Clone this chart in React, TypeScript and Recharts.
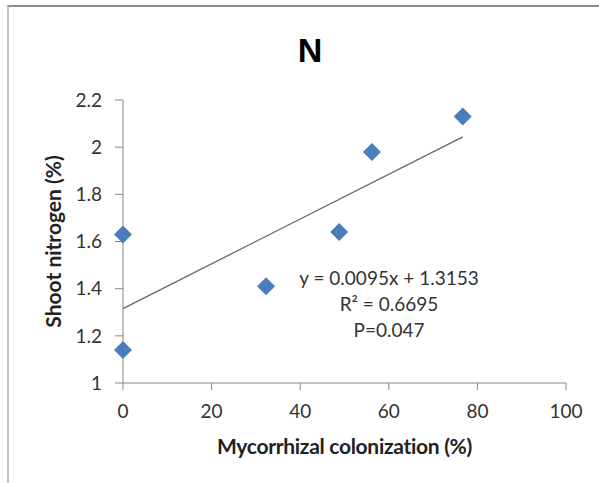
import React from "react"
import { ScatterChart, Scatter, XAxis, YAxis } from "recharts"

const colonization = [0, 0, 32.3, 48.8, 56.2, 76.7]
const shootN = [1.63, 1.14, 1.41, 1.64, 1.98, 2.13]

const xTicks = [0, 20, 40, 60, 80, 100]
const yTicks = [1, 1.2, 1.4, 1.6, 1.8, 2, 2.2]

// trendline as printed on the chart
const slope = 0.0095
const intercept = 1.3153
const trendRange = [0, 76.7]

const equationLines = ["y = 0.0095x + 1.3153", "R\u00B2 = 0.6695", "P=0.047"]

const points = colonization.map((x, i) => ({ x, y: shootN[i] }))
const trend = trendRange.map((x) => ({ x, y: slope * x + intercept }))

const FONT = "Lato, 'Open Sans', sans-serif"
const AXIS = "#868686"

const Diamond = (props: any) => {
  const { cx, cy } = props
  const r = 9
  return (
    <polygon
      points={`${cx},${cy - r} ${cx + r},${cy} ${cx},${cy + r} ${cx - r},${cy}`}
      fill="#4a7ebb"
    />
  )
}

export default function App() {
  return (
    <div style={{ position: "absolute", left: 0, top: 0, width: 599, height: 483, background: "#fff" }}>
      <div
        style={{
          position: "absolute",
          left: 7,
          top: 5,
          width: 592,
          height: 478,
          borderTop: "2px solid #8c8c8c",
          borderLeft: "2px solid #c4c4c4",
          boxSizing: "border-box"
        }}
      />
      <div
        style={{
          position: "absolute",
          left: 0,
          top: 30,
          width: 620,
          textAlign: "center",
          fontFamily: "'Liberation Sans', Arial, sans-serif",
          fontWeight: "bold",
          fontSize: 34,
          lineHeight: "40px",
          color: "#000"
        }}
      >
        N
      </div>
      <div style={{ position: "absolute", left: 0, top: 0 }}>
        <ScatterChart width={599} height={483} margin={{ top: 100, right: 33, bottom: 30, left: 63 }}>
          <XAxis
            type="number"
            dataKey="x"
            domain={[0, 100]}
            ticks={xTicks}
            height={70}
            stroke={AXIS}
            tickSize={7}
            tickMargin={15}
            tick={{ fill: "#333", fontSize: 19, fontFamily: FONT }}
            label={{
              content: (p: any) => {
                const vb = p.viewBox
                return (
                  <text
                    x={vb.x + vb.width / 2}
                    y={454}
                    textAnchor="middle"
                    fontFamily={FONT}
                    fontWeight="bold"
                    fontSize={21}
                    letterSpacing={-0.3}
                    fill="#222"
                  >
                    Mycorrhizal colonization  (%)
                  </text>
                )
              }
            }}
          />
          <YAxis
            type="number"
            dataKey="y"
            domain={[1, 2.2]}
            ticks={yTicks}
            width={60}
            stroke={AXIS}
            tickSize={8}
            tickMargin={13}
            tick={{ fill: "#333", fontSize: 19, fontFamily: FONT }}
            label={{
              content: (p: any) => {
                const vb = p.viewBox
                const cy = vb.y + vb.height / 2
                return (
                  <text
                    x={61}
                    y={cy}
                    transform={`rotate(-90 61 ${cy})`}
                    textAnchor="middle"
                    fontFamily={FONT}
                    fontWeight="bold"
                    fontSize={21}
                    fill="#222"
                  >
                    Shoot nitrogen (%)
                  </text>
                )
              }
            }}
          />
          <Scatter
            data={trend}
            line={{ stroke: "#666", strokeWidth: 1.3 }}
            shape={() => null}
            isAnimationActive={false}
          />
          <Scatter data={points} shape={<Diamond />} isAnimationActive={false} />
          <g fontFamily={FONT} fontSize={19} fill="#333" textAnchor="middle">
            {equationLines.map((t, i) => (
              <text key={t} x={389} y={285 + i * 26}>
                {t}
              </text>
            ))}
          </g>
        </ScatterChart>
      </div>
    </div>
  )
}
